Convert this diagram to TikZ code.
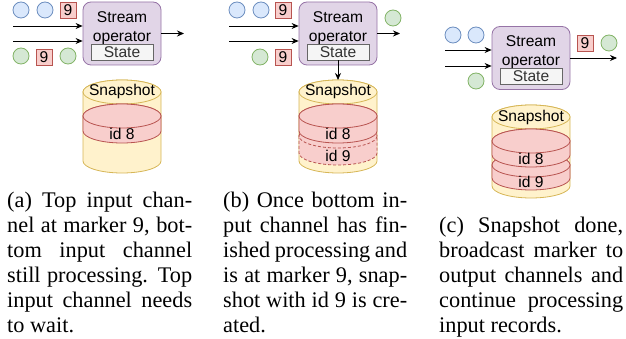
\documentclass[tikz,border=0pt]{standalone}
\usepackage{fontspec}
\setmainfont{Liberation Serif}
\setsansfont{Liberation Sans}
\usetikzlibrary{arrows.meta}
\definecolor{blueFill}{HTML}{DAE8FC}
\definecolor{blueLine}{HTML}{6C8EBF}
\definecolor{greenFill}{HTML}{D5E8D4}
\definecolor{greenLine}{HTML}{82B366}
\definecolor{redFill}{HTML}{F8CECC}
\definecolor{redLine}{HTML}{B85450}
\definecolor{purpleFill}{HTML}{E1D5E7}
\definecolor{purpleLine}{HTML}{9673A6}
\definecolor{yellowFill}{HTML}{FFF2CC}
\definecolor{yellowLine}{HTML}{D6B656}
\tikzset{
  bluerec/.style={circle, draw=blueLine, fill=blueFill, line width=0.8pt, minimum size=16pt, inner sep=0pt},
  greenrec/.style={circle, draw=greenLine, fill=greenFill, line width=0.8pt, minimum size=16pt, inner sep=0pt},
  marker/.style={draw=redLine, fill=redFill, line width=0.8pt, minimum size=16pt, inner sep=0pt, font=\sffamily\fontsize{15.6}{19}\selectfont},
  operator/.style={draw=purpleLine, fill=purpleFill, line width=0.8pt, rounded corners=8pt, minimum width=78pt, minimum height=63pt, inner sep=0pt},
  statebox/.style={draw=black!60, fill=black!4, line width=0.8pt, minimum width=62pt, minimum height=16pt, inner sep=0pt, text=black!80, font=\sffamily\fontsize{15.6}{19}\selectfont},
  label/.style={inner sep=0pt, align=center, font=\sffamily\fontsize{15.6}{19}\selectfont},
  channel/.style={-{Stealth[length=7pt,width=6pt]}, line width=0.8pt},
  store/.style={draw=yellowLine, fill=yellowFill, line width=0.8pt},
  snap/.style={draw=redLine, fill=redFill, line width=0.8pt},
  caption/.style={inner sep=0pt, anchor=north west, align=justify, font=\fontsize{22.3}{25}\selectfont}
}
% one drum: centre x, top y, bottom y, style
\newcommand{\drum}[4]{
  \draw[#4] (#1-39,#2) -- (#1-39,#3) arc[start angle=180, end angle=0, x radius=39, y radius=12] -- (#1+39,#2) arc[start angle=0, end angle=-180, x radius=39, y radius=12] -- cycle;
  \draw[#4] (#1,#2) ellipse[x radius=39, y radius=12];
}
\begin{document}
\begin{tikzpicture}[x=1pt, y=-1pt]
  \useasboundingbox (0,0) rectangle (626,339);

  % left panel
  \node[bluerec] (a blue1) at (21,10) {};
  \node[bluerec] (a blue2) at (45,10) {};
  \node[marker] (a top9) at (68,10) {9};
  \node[greenrec] (a green1) at (21,56) {};
  \node[marker] (a bot9) at (44,57) {9};
  \node[greenrec] (a green2) at (68,56) {};
  \node[operator] (a op) at (122,33.5) {};
  \node[label] (a name) at (122,28) {Stream\\operator};
  \node[statebox] (a state) at (122,52) {State};
  \coordinate (a in1) at (13,26);
  \coordinate (a in2) at (13,41);
  \coordinate (a out) at (184,33.5);
  \draw[channel] (a in1) -- (a in1 -| a op.west);
  \draw[channel] (a in2) -- (a in2 -| a op.west);
  \draw[channel] (a op.east) -- (a out);
  \drum{122}{92}{161}{store}
  \node[label] (a snap) at (122,91) {Snapshot};
  \drum{122}{116}{131}{snap}
  \node[label] (a id8) at (122,134) {id 8};
  \node[caption, text width=185pt] (a cap) at (7,191.5) {(a) Top input chan-\linebreak nel at marker 9, bot-\linebreak tom input channel\linebreak still processing. Top\linebreak input channel needs\linebreak to wait.};

  % middle panel
  \node[bluerec] (b blue1) at (237,10) {};
  \node[bluerec] (b blue2) at (261,10) {};
  \node[marker] (b top9) at (283,10) {9};
  \node[greenrec] (b green1) at (260,57) {};
  \node[marker] (b bot9) at (283,57) {9};
  \node[greenrec] (b green2) at (393,18) {};
  \node[operator] (b op) at (338,33.5) {};
  \node[label] (b name) at (338,28) {Stream\\operator};
  \node[statebox] (b state) at (338,52) {State};
  \coordinate (b in1) at (229,26);
  \coordinate (b in2) at (229,41);
  \coordinate (b out) at (400,33.5);
  \coordinate (b store) at (338,80);
  \draw[channel] (b in1) -- (b in1 -| b op.west);
  \draw[channel] (b in2) -- (b in2 -| b op.west);
  \draw[channel] (b op.east) -- (b out);
  \drum{338}{92}{161}{store}
  \node[label] (b snap) at (338,91) {Snapshot};
  \draw[channel] (b state.south) -- (b store);
  \drum{338}{136}{153}{snap, densely dashed}
  \drum{338}{116}{131}{snap}
  \node[label] (b id8) at (338,134) {id 8};
  \node[label] (b id9) at (338,156) {id 9};
  \node[caption, text width=184pt] (b cap) at (223,191.5) {(b) Once bottom in-\linebreak put channel has fin-\linebreak ished processing and\linebreak is at marker 9, snap-\linebreak shot with id 9 is cre-\linebreak ated.};

  % right panel
  \node[bluerec] (c blue1) at (453,35) {};
  \node[bluerec] (c blue2) at (476,35) {};
  \node[greenrec] (c green1) at (476,81) {};
  \node[operator] (c op) at (531,58) {};
  \node[label] (c name) at (531,52.5) {Stream\\operator};
  \node[statebox] (c state) at (531,76) {State};
  \node[marker] (c out9) at (585,43) {9};
  \node[greenrec] (c green2) at (609,43) {};
  \coordinate (c in1) at (445,50);
  \coordinate (c in2) at (445,66);
  \coordinate (c out) at (617,58);
  \draw[channel] (c in1) -- (c in1 -| c op.west);
  \draw[channel] (c in2) -- (c in2 -| c op.west);
  \draw[channel] (c op.east) -- (c out);
  \drum{531}{117}{186}{store}
  \node[label] (c snap) at (531,117) {Snapshot};
  \drum{531}{165}{178}{snap}
  \drum{531}{141}{155}{snap}
  \node[label] (c id8) at (531,159) {id 8};
  \node[label] (c id9) at (531,182) {id 9};
  \node[caption, text width=184pt] (c cap) at (439,216.5) {(c) Snapshot done,\linebreak broadcast marker to\linebreak output channels and\linebreak continue processing\linebreak input records.};
\end{tikzpicture}
\end{document}
